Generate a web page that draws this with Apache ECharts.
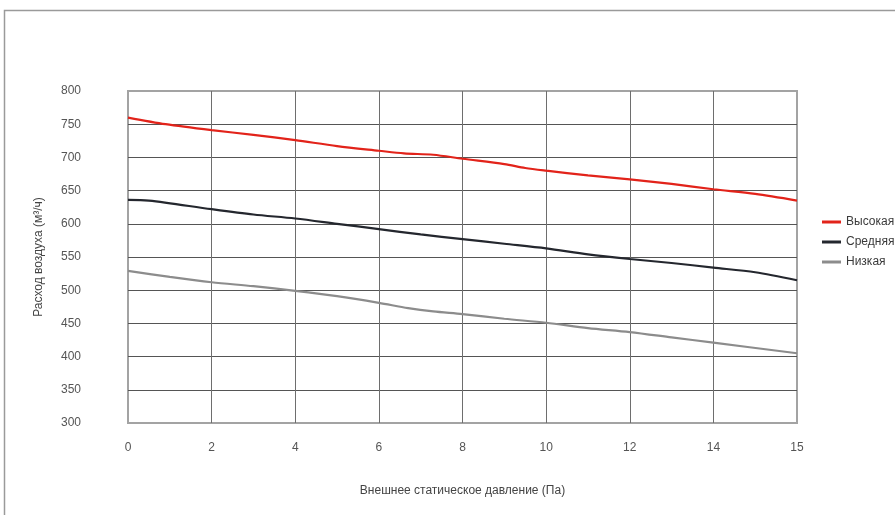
<!DOCTYPE html>
<html>
<head>
<meta charset="utf-8">
<script src="https://cdn.jsdelivr.net/npm/echarts@6/dist/echarts.min.js"></script>
<style>html,body{margin:0;padding:0;background:#fff}#c{width:895px;height:515px}</style>
</head>
<body>
<div id="c"></div>
<script>
// Tick labels of the pressure axis (equally spaced on the chart)
const xTickLabels = ['0', '2', '4', '6', '8', '10', '12', '14', '15'];
const yMin = 300, yMax = 800, yStep = 50;

// Pressure sample points (Pa) and flow values (m³/h)
const highX = [0, 0.9, 2, 3, 4, 5, 6, 6.6, 7.3, 8, 9, 9.5, 10, 11, 12, 13, 14, 14.5, 15];
const highY = [760, 750, 741, 734, 726, 717, 710, 706, 704, 698, 690, 684, 680, 673, 667, 660, 652, 645, 635];

const midX = [0, 0.5, 2, 3, 4, 5, 6, 7, 8, 9, 10, 11, 12, 13, 14, 14.5, 15];
const midY = [636, 635, 622, 614, 608, 600, 592, 584, 577, 570, 563, 554, 547, 541, 534, 527, 515];

const lowX = [0, 1, 2, 3, 4, 5, 6, 6.7, 7.3, 8, 9, 10, 11, 12, 13, 14, 15];
const lowY = [529, 520, 512, 506, 499, 491, 481, 473, 468, 464, 457, 451, 443, 437, 429, 421, 405];

const seriesNames = ['Высокая', 'Средняя', 'Низкая'];
const seriesColors = ['#e2231a', '#24272e', '#8c8c8c'];

// Map a pressure value (Pa) onto the equally spaced tick index scale
function pressureToIndex(p) {
  return p <= 14 ? p / 2 : 7 + (p - 14);
}
function pairs(xs, ys) { return xs.map((x, i) => [pressureToIndex(x), ys[i]]); }

const chart = echarts.init(document.getElementById('c'), null, {renderer: 'canvas'});
const font = 'Liberation Sans, Arial, sans-serif';
chart.setOption({
  animation: false,
  backgroundColor: '#fff',
  textStyle: {fontFamily: font},
  graphic: [{
    type: 'polyline', silent: true,
    shape: {points: [[4.5, 520], [4.5, 10.5], [900, 10.5]]},
    style: {stroke: '#9a9a9a', lineWidth: 1.5, fill: null}
  }],
  grid: {left: 128, right: 98, top: 91, bottom: 92, show: true, borderColor: '#a3a3a3', borderWidth: 2, backgroundColor: 'transparent'},
  legend: {
    orient: 'vertical', left: 817, top: 211,
    itemWidth: 19, itemHeight: 3, itemGap: 8, itemTextGap: 5,
    icon: 'rect',
    textStyle: {fontSize: 12, color: '#3a3a3a', fontFamily: font},
    data: seriesNames
  },
  xAxis: {
    type: 'value', min: 0, max: xTickLabels.length - 1, interval: 1,
    axisLine: {show: false},
    axisTick: {show: false},
    splitLine: {show: true, showMinLine: false, showMaxLine: false, lineStyle: {color: '#6e6e6e', width: 1}},
    axisLabel: {margin: 19, fontSize: 12, color: '#555', fontFamily: font, formatter: v => xTickLabels[Math.round(v)]},
    name: 'Внешнее статическое давление (Па)', nameLocation: 'middle', nameGap: 62,
    nameTextStyle: {fontSize: 12, color: '#444', fontFamily: font}
  },
  yAxis: {
    type: 'value', min: yMin, max: yMax, interval: yStep,
    axisLine: {show: false},
    axisTick: {show: false},
    splitLine: {show: true, showMinLine: false, showMaxLine: false, lineStyle: {color: '#555', width: 1}},
    axisLabel: {margin: 47, fontSize: 12, color: '#555', fontFamily: font},
    name: 'Расход воздуха (м³/ч)', nameLocation: 'middle', nameGap: 83,
    nameTextStyle: {fontSize: 12, color: '#444', fontFamily: font}
  },
  series: [
    {name: seriesNames[0], type: 'line', smooth: 0.3, showSymbol: false, data: pairs(highX, highY), lineStyle: {color: seriesColors[0], width: 2.2}, itemStyle: {color: seriesColors[0]}},
    {name: seriesNames[1], type: 'line', smooth: 0.3, showSymbol: false, data: pairs(midX, midY), lineStyle: {color: seriesColors[1], width: 2.2}, itemStyle: {color: seriesColors[1]}},
    {name: seriesNames[2], type: 'line', smooth: 0.3, showSymbol: false, data: pairs(lowX, lowY), lineStyle: {color: seriesColors[2], width: 2.2}, itemStyle: {color: seriesColors[2]}}
  ]
});
</script>
</body>
</html>
